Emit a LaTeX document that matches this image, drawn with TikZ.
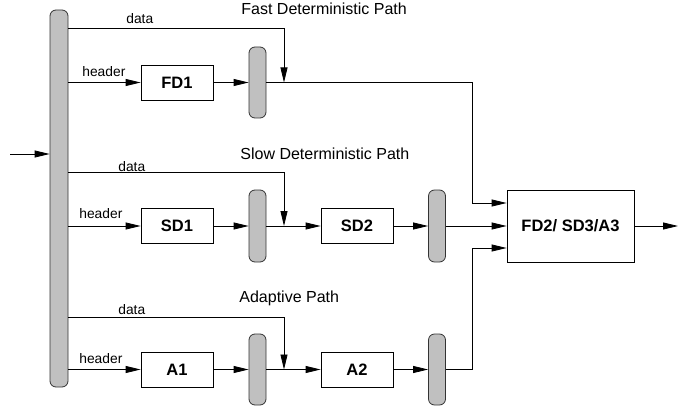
\documentclass[tikz,border=0pt]{standalone}
\usepackage{fontspec}
\setmainfont{Liberation Sans}
\usetikzlibrary{arrows.meta}
\definecolor{muxgray}{HTML}{C0C0C0}
\begin{document}
\begin{tikzpicture}[x=1pt,y=-1pt, line width=0.8pt,
 box/.style={draw, fill=white, minimum width=72pt, minimum height=35pt, inner sep=0pt, font=\fontsize{16.5}{18}\selectfont\bfseries},
 mux/.style={draw=black!80, fill=muxgray, rounded corners=6pt, minimum width=17pt, minimum height=71pt, inner sep=0pt},
 lbl/.style={font=\fontsize{13.8}{15}\selectfont, inner sep=0pt, anchor=base west},
 ttl/.style={font=\fontsize{16}{17}\selectfont, inner sep=0pt, anchor=base west},
 arr/.style={-{Triangle[length=15pt,width=7pt]}},
]
\useasboundingbox (0,0) rectangle (684,406);
% main bar
\node[mux, minimum width=18pt, minimum height=377pt] (bar) at (59,198.5) {};
\coordinate (in) at (10,154);
\draw[arr] (in) -- (in -| bar.west);

% fast path
\node[box] (FD1) at (177,82.5) {FD1};
\node[mux] (mux1) at (257.5,82.5) {};
\coordinate (fdd) at (284,28);
\coordinate (fb) at (472,82.5);
\coordinate (fin) at (472,203);
\draw[arr] (bar.east |- fdd) -- (fdd) -- (fdd |- mux1.east);
\draw[arr] (bar.east |- FD1) -- (FD1.west);
\draw[arr] (FD1.east) -- (mux1.west);
\node[lbl] (fdata) at (126,24) {data};
\node[lbl] (fhead) at (82,77) {header};
\node[ttl] (ftitle) at (241,15) {Fast Deterministic Path};

% slow path
\node[box] (SD1) at (177,226) {SD1};
\node[mux, minimum height=72pt] (mux2) at (257.5,226) {};
\node[box] (SD2) at (357,226) {SD2};
\node[mux, minimum height=72pt] (mux3) at (437,226) {};
\node[box, minimum width=127pt, minimum height=72pt] (out) at (570.5,226) {FD2/ SD3/A3};
\coordinate (sdd) at (284,172);
\draw[arr] (bar.east |- sdd) -- (sdd) -- (sdd |- mux2.east);
\draw[arr] (bar.east |- SD1) -- (SD1.west);
\draw[arr] (SD1.east) -- (mux2.west);
\draw[arr] (mux2.east) -- (SD2.west);
\draw[arr] (SD2.east) -- (mux3.west);
\draw[arr] (mux3.east) -- (out.west);
\coordinate (outp) at (678,226);
\draw[arr] (out.east) -- (outp);
\node[lbl] (sdata) at (118,171) {data};
\node[lbl] (shead) at (79,218) {header};
\node[ttl] (stitle) at (240,159) {Slow Deterministic Path};

% adaptive path
\node[box] (A1) at (177,369.5) {A1};
\node[mux] (mux4) at (257.5,369.5) {};
\node[box] (A2) at (357,369.5) {A2};
\node[mux] (mux5) at (437,369.5) {};
\coordinate (add) at (284,317);
\coordinate (ab) at (472,369.5);
\coordinate (ain) at (472,248);
\draw[arr] (bar.east |- add) -- (add) -- (add |- mux4.east);
\draw[arr] (bar.east |- A1) -- (A1.west);
\draw[arr] (A1.east) -- (mux4.west);
\draw[arr] (mux4.east) -- (A2.west);
\draw[arr] (A2.east) -- (mux5.west);
\node[lbl] (adata) at (118,314) {data};
\node[lbl] (ahead) at (79,363) {header};
\node[ttl] (atitle) at (239,302) {Adaptive Path};

% merges into output block
\draw[arr] (mux1.east) -- (fb) -- (fin) -- (out.west |- fin);
\draw[arr] (mux5.east) -- (ab) -- (ain) -- (out.west |- ain);
\end{tikzpicture}
\end{document}
